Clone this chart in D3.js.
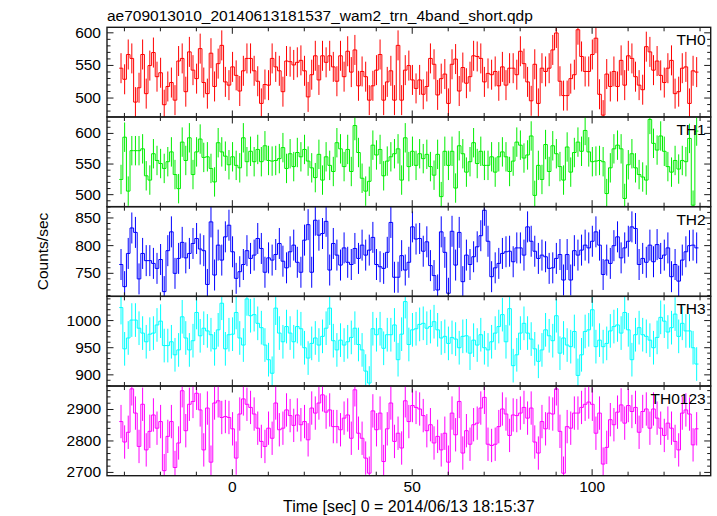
<!DOCTYPE html>
<html>
<head>
<meta charset="utf-8">
<script src="https://cdn.jsdelivr.net/npm/d3@7"></script>
<style>
  html, body { margin: 0; padding: 0; background: #fff; }
  svg { display: block; }
  text { font-family: "Liberation Sans", Arial, Helvetica, sans-serif; fill: #000; }
</style>
</head>
<body>
<svg id="chart" width="717" height="516"></svg>
<script>
// ---- data ----
const titleText = "ae709013010_20140613181537_wam2_trn_4band_short.qdp";
const xLabelText = "Time [sec] 0 = 2014/06/13 18:15:37";
const yLabelText = "Counts/sec";
const panelNames = ["TH0", "TH1", "TH2", "TH3", "TH0123"];
const panelColors = ["#ff0000", "#00ee00", "#0000ff", "#00ffff", "#ff00ff"];
const binStart = -31.3;   // left edge of first 1-s bin
const binWidth = 1;
const xDomain = [-34.7, 133.1];
const xLabelTicks = [0, 50, 100];
const xMinorTicks = [-30, -20, -10, 10, 20, 30, 40, 60, 70, 80, 90, 110, 120, 130];

const yDomains = [[470.2, 607.7], [479.6, 626], [707.5, 869.5], [878.5, 1043.7], [2688, 2973]];
const yLabelTicks = [[500, 550, 600], [500, 550, 600], [750, 800, 850], [900, 950, 1000], [2700, 2800, 2900]];
const yMinorSteps = [10, 10, 10, 10, 20];
const errHalf = [23, 24, 28, 31, 53];

const th0 = [545,528,566,560,493,515,566,506,549,569,
532,538,489,517,523,496,556,560,509,570,
542,529,575,523,506,568,517,552,580,524,
519,547,534,510,541,560,560,541,525,491,
520,519,560,547,541,509,556,555,550,554,
557,541,501,535,564,527,564,554,564,547,
525,564,532,571,539,573,518,540,532,496,
518,542,566,496,524,541,496,580,496,542,
549,
527,514,527,505,517,560,551,504,529,536,
491,551,559,510,546,522,532,564,563,560,
524,537,535,540,518,547,519,545,545,535,
571,552,524,495,551,491,545,540,545,573,
599,525,503,503,529,535,604,563,540,540,
566,591,505,473,536,517,540,517,557,519,
564,560,532,519,512,578,570,542,556,534,
523,545,557,506,509,545,547,491,541,539];

const th1 = [524,593,505,571,571,571,574,530,523,566,
555,550,542,553,569,532,509,585,555,592,
532,569,590,560,561,542,520,584,569,562,
548,561,547,543,592,553,570,553,573,553,
579,555,554,555,558,576,542,566,545,568,
561,573,554,543,527,565,523,561,547,537,
584,574,545,573,537,612,568,526,505,521,
580,564,573,530,554,561,566,574,523,592,
545,
570,547,566,558,565,545,531,565,496,570,
547,570,510,579,566,536,553,584,550,570,
547,547,561,536,561,569,561,537,554,585,
580,559,564,595,498,547,524,581,537,579,
566,545,523,577,536,568,585,570,604,569,
553,554,555,553,501,543,574,580,574,493,
548,566,543,532,528,523,622,583,572,595,
570,545,536,555,541,555,553,591,482,603];

const th2 = [765,725,785,831,823,739,785,772,772,767,
758,774,716,790,824,749,776,805,777,785,
803,812,793,790,729,842,746,800,773,815,
836,788,740,752,765,790,776,782,812,794,
751,777,773,783,803,771,759,788,800,769,
751,809,837,751,845,818,821,843,755,803,
782,764,795,769,765,794,776,800,782,791,
814,765,761,758,787,841,742,742,781,755,
769,
833,811,812,789,806,763,745,719,824,787,
713,825,764,823,734,782,765,779,797,817,
863,807,743,759,767,785,788,789,770,795,
795,782,833,807,789,776,782,779,758,759,
776,783,737,783,737,790,782,791,800,795,
807,824,800,747,773,767,799,815,777,795,
807,833,830,765,776,769,800,770,801,776,
782,795,743,765,735,773,788,799,800,795];

const th3 = [1023,947,967,1000,1000,985,976,960,974,976,
991,998,953,953,960,936,945,1006,967,945,
962,1014,971,985,980,973,947,982,1031,947,
973,974,1014,967,954,1039,1008,1010,994,986,
954,927,902,1022,976,960,988,976,960,988,
984,949,930,957,967,954,970,985,1022,962,
945,963,954,960,968,985,955,945,906,884,
984,973,984,948,973,973,991,927,974,1034,
955,
982,984,992,994,985,988,997,982,967,970,
957,968,965,949,970,971,939,963,954,973,
949,945,960,976,988,1010,960,1021,916,936,
976,994,976,965,947,924,945,982,971,962,
1008,939,967,954,951,979,898,936,979,982,
1019,951,963,951,957,980,988,991,976,1014,
982,927,973,986,973,970,963,949,968,1005,
998,978,986,1011,970,994,980,980,949,919];

const th0123 = [2860,2795,2826,2964,2887,2781,2915,2770,2829,2881,
2839,2860,2704,2813,2860,2714,2792,2958,2831,2915,
2924,2950,2897,2770,2903,2731,2919,2926,2873,2876,
2873,2837,2744,2884,2932,2915,2905,2884,2839,2797,
2781,2839,2807,2919,2834,2839,2897,2879,2848,2881,
2850,2860,2802,2903,2887,2919,2945,2890,2897,2844,
2844,2834,2871,2881,2807,2961,2823,2807,2744,2696,
2894,2834,2887,2733,2837,2919,2797,2823,2776,2926,
2860,
2911,2905,2900,2879,2831,2850,2792,2813,2770,2823,
2731,2887,2818,2924,2760,2831,2788,2850,2855,2903,
2937,2788,2784,2788,2844,2900,2884,2816,2881,2879,
2887,2905,2871,2903,2795,2760,2860,2837,2887,2884,
2964,2829,2696,2844,2839,2887,2887,2905,2915,2922,
2915,2823,2887,2725,2778,2866,2850,2890,2913,2855,
2911,2892,2905,2826,2892,2900,2839,2900,2871,2839,
2816,2855,2839,2797,2770,2887,2897,2884,2786,2837];

const seriesValues = [th0, th1, th2, th3, th0123];

// ---- layout ----
const svg = d3.select("#chart");
const plotLeft = 107, plotRight = 710.7, plotTop = 27.3, plotBottom = 475.7;
const nP = seriesValues.length;
const panelH = (plotBottom - plotTop) / nP;
const frameColor = "#1a1a1a";
const fontFam = '"Liberation Sans", Arial, Helvetica, sans-serif';

const x = d3.scaleLinear().domain(xDomain).range([plotLeft, plotRight]);

// title
svg.append("text").attr("x", plotLeft).attr("y", 20.5)
  .style("font-size", "15.5px").text(titleText);

// y label (centred over the whole stack)
svg.append("text")
  .attr("transform", `translate(48,${(plotTop + plotBottom) / 2}) rotate(-90)`)
  .attr("text-anchor", "middle").style("font-size", "15.5px").text(yLabelText);

// x label
svg.append("text").attr("x", (plotLeft + plotRight) / 2).attr("y", 512)
  .attr("text-anchor", "middle").style("font-size", "16px").text(xLabelText);

seriesValues.forEach((vals, p) => {
  const top = plotTop + p * panelH, bottom = top + panelH;
  const y = d3.scaleLinear().domain(yDomains[p]).range([bottom, top]);
  const g = svg.append("g");
  const color = panelColors[p];

  const clipId = "clip" + p;
  svg.append("clipPath").attr("id", clipId).append("rect")
    .attr("x", plotLeft).attr("y", top).attr("width", plotRight - plotLeft).attr("height", panelH);

  const data = vals.map((v, i) => ({ t: binStart + binWidth * (i + 0.5), v }));
  const body = g.append("g").attr("clip-path", `url(#${clipId})`);

  // error bars
  body.selectAll("line.err").data(data).join("line")
    .attr("class", "err")
    .attr("x1", d => x(d.t)).attr("x2", d => x(d.t))
    .attr("y1", d => y(d.v - errHalf[p])).attr("y2", d => y(d.v + errHalf[p]))
    .attr("stroke", color).attr("stroke-width", 1);

  // step line through bin edges
  const stepPts = data.map(d => [d.t - binWidth / 2, d.v]);
  stepPts.push([data[data.length - 1].t + binWidth / 2, data[data.length - 1].v]);
  const line = d3.line().x(d => x(d[0])).y(d => y(d[1])).curve(d3.curveStepAfter);
  body.append("path").attr("d", line(stepPts))
    .attr("fill", "none").attr("stroke", color).attr("stroke-width", 1);

  // y axes: major (labelled) and minor ticks, ticks pointing inward
  const [lo, hi] = yDomains[p];
  const step = yMinorSteps[p];
  const minor = d3.range(Math.ceil(lo / step) * step, hi, step)
    .filter(v => !yLabelTicks[p].includes(v));

  const yAxisL = d3.axisLeft(y).tickValues(yLabelTicks[p]).tickFormat(d3.format("d"))
    .tickSizeInner(-6.5).tickSizeOuter(0).tickPadding(6);
  const yAxisLm = d3.axisLeft(y).tickValues(minor).tickSizeInner(-3.5).tickSizeOuter(0).tickFormat("");
  const yAxisR = d3.axisRight(y).tickValues(yLabelTicks[p]).tickSizeInner(-6.5).tickSizeOuter(0).tickFormat("");
  const yAxisRm = d3.axisRight(y).tickValues(minor).tickSizeInner(-3.5).tickSizeOuter(0).tickFormat("");

  const gl = g.append("g").attr("transform", `translate(${plotLeft},0)`).call(yAxisL);
  g.append("g").attr("transform", `translate(${plotLeft},0)`).call(yAxisLm);
  g.append("g").attr("transform", `translate(${plotRight},0)`).call(yAxisR);
  g.append("g").attr("transform", `translate(${plotRight},0)`).call(yAxisRm);
  gl.selectAll("text").style("font-size", "15.5px").style("font-family", fontFam);

  // x ticks on top and bottom of every panel
  const xb = d3.axisBottom(x).tickValues(xLabelTicks).tickFormat(d3.format("d"))
    .tickSizeInner(-6.5).tickSizeOuter(0).tickPadding(5.5);
  if (p !== nP - 1) xb.tickFormat("");
  const xbm = d3.axisBottom(x).tickValues(xMinorTicks).tickSizeInner(-4).tickSizeOuter(0).tickFormat("");
  const xt = d3.axisTop(x).tickValues(xLabelTicks).tickSizeInner(-6.5).tickSizeOuter(0).tickFormat("");
  const xtm = d3.axisTop(x).tickValues(xMinorTicks).tickSizeInner(-4).tickSizeOuter(0).tickFormat("");
  const gb = g.append("g").attr("transform", `translate(0,${bottom})`).call(xb);
  g.append("g").attr("transform", `translate(0,${bottom})`).call(xbm);
  g.append("g").attr("transform", `translate(0,${top})`).call(xt);
  g.append("g").attr("transform", `translate(0,${top})`).call(xtm);
  gb.selectAll("text").style("font-size", "15.5px").style("font-family", fontFam);

  g.selectAll(".domain").remove();
  g.selectAll(".tick line").attr("stroke", frameColor);

  // frame
  g.append("rect").attr("x", plotLeft).attr("y", top)
    .attr("width", plotRight - plotLeft).attr("height", panelH)
    .attr("fill", "none").attr("stroke", frameColor).attr("stroke-width", 1.4);

  // panel label
  g.append("text").attr("x", plotRight - 5).attr("y", top + 18)
    .attr("text-anchor", "end").style("font-size", "15.5px").text(panelNames[p]);
});
</script>
</body>
</html>
